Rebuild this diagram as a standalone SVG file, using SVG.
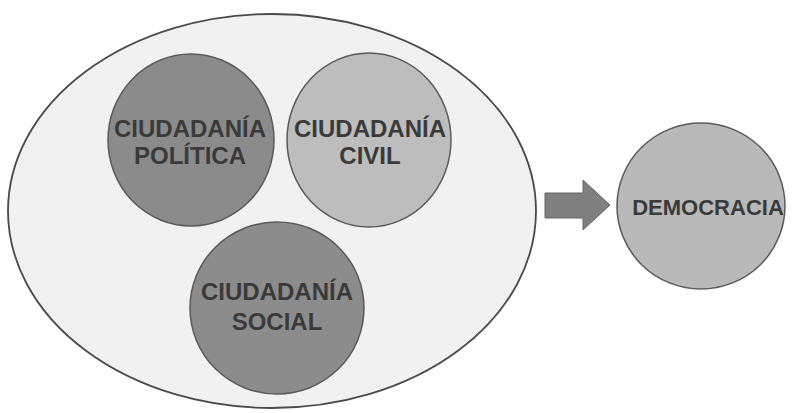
<svg xmlns="http://www.w3.org/2000/svg" width="795" height="413" viewBox="0 0 795 413">
<style>
.node{stroke:#5a5a5a;stroke-width:1.5}
.lbl{font-family:"Liberation Sans",Arial,sans-serif;font-weight:bold;font-size:24px;fill:#3a3a3a;text-anchor:middle}
</style>
<rect width="795" height="413" fill="#ffffff"/>
<g id="conjunto">
<ellipse cx="272" cy="211" rx="264" ry="197" fill="#f1f1f1" stroke="#4a4a4a" stroke-width="1.8"/>
</g>
<g id="politica">
<ellipse class="node" cx="191" cy="140" rx="83" ry="86" fill="#8b8b8b"/>
<text class="lbl" x="190" y="137">CIUDADANÍA</text>
<text class="lbl" x="190" y="164">POLÍTICA</text>
</g>
<g id="civil">
<ellipse class="node" cx="369" cy="140" rx="82" ry="87" fill="#bdbdbd"/>
<text class="lbl" x="370" y="137">CIUDADANÍA</text>
<text class="lbl" x="370" y="164">CIVIL</text>
</g>
<g id="social">
<ellipse class="node" cx="277" cy="308" rx="87" ry="86" fill="#8c8c8c"/>
<text class="lbl" x="277" y="300">CIUDADANÍA</text>
<text class="lbl" x="277" y="330">SOCIAL</text>
</g>
<g id="connectors">
<polygon points="545,193 583,193 583,180 610,205 583,230 583,218 545,218" fill="#7f7f7f" stroke="#666" stroke-width="1"/>
</g>
<g id="democracia">
<ellipse class="node" cx="701" cy="206" rx="84" ry="83" fill="#b9b9b9"/>
<text class="lbl" x="708" y="215" style="font-size:22px">DEMOCRACIA</text>
</g>
</svg>
